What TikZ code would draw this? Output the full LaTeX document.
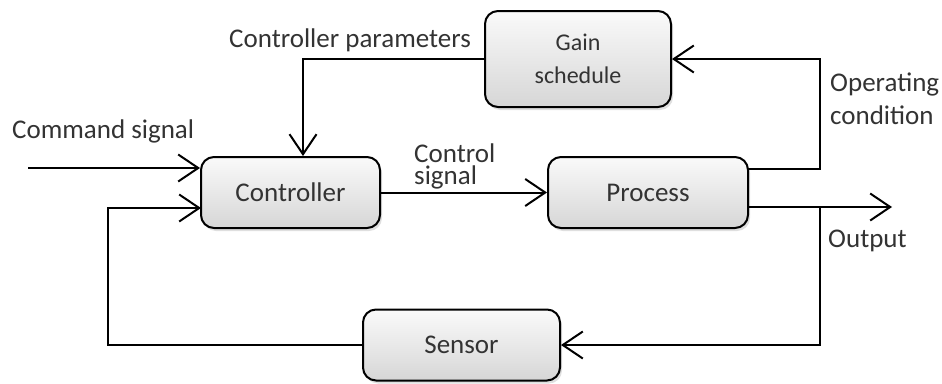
\documentclass[tikz,border=0pt]{standalone}
\usepackage{fontspec}
\setmainfont{Carlito}
\usetikzlibrary{arrows.meta,shadows}

\definecolor{txt}{HTML}{333333}
\tikzset{
  blockbox/.style={draw=black, line width=2pt, rounded corners=13pt,
    top color=gray!4, bottom color=gray!32,
    drop shadow={opacity=0.25, shadow xshift=2pt, shadow yshift=-3pt},
    text=txt, font=\fontsize{27}{28}\selectfont, align=center, inner sep=0pt},
  wire/.style={line width=2pt, draw=black},
  arr/.style={wire, -{Straight Barb[length=20pt,width=27pt,line width=2pt]}},
  lbl/.style={text=txt, font=\fontsize{27}{32}\selectfont, inner sep=0pt, anchor=base west, align=left}
}

\begin{document}
\begin{tikzpicture}[x=1pt,y=-1pt]
  \useasboundingbox (0,0) rectangle (942,383);

  % blocks
  \node[blockbox, minimum width=186pt, minimum height=96pt, font=\fontsize{24}{33}\selectfont] (gain) at (578,59) {Gain\\schedule};
  \node[blockbox, minimum width=179pt, minimum height=71pt] (ctrl) at (290.5,192.5) {Controller};
  \node[blockbox, minimum width=200pt, minimum height=71pt] (proc) at (648,192.5) {Process};
  \node[blockbox, minimum width=197pt, minimum height=71pt] (sens) at (461.5,345) {Sensor};

  % helper points for the wiring
  \coordinate (cmd) at (28,168);
  \coordinate (cp) at (303,59);
  \coordinate (fbx) at (108,208);
  \coordinate (fbin) at (201,208);
  \coordinate (opA) at (748,169);
  \coordinate (opB) at (820,169);
  \coordinate (outA) at (748,207);
  \coordinate (tap) at (820,207);
  \coordinate (outEnd) at (892,207);

  % signal paths
  \draw[arr] (cmd) -- (ctrl.west |- cmd);
  \draw[arr] (gain.west) -- (cp) -- (cp |- ctrl.north);
  \draw[arr] (ctrl.east) -- (proc.west);
  \draw[arr] (opA) -- (opB) |- (gain.east);
  \draw[arr] (outA) -- (outEnd);
  \draw[arr] (tap) |- (sens.east);
  \draw[arr] (sens.west) -| (fbx) -- (fbin);

  % labels (multi-line labels are placed by their last baseline)
  \node[lbl] (lcp) at (229,47) {Controller parameters};
  \node[lbl] (lcmd) at (12,138) {Command signal};
  \node[lbl, font=\fontsize{27}{22}\selectfont] (lcs) at (414,184) {Control\\signal};
  \node[lbl, font=\fontsize{27}{33}\selectfont] (lop) at (830,124) {Operating\\condition};
  \node[lbl] (lout) at (828,247) {Output};
\end{tikzpicture}
\end{document}
